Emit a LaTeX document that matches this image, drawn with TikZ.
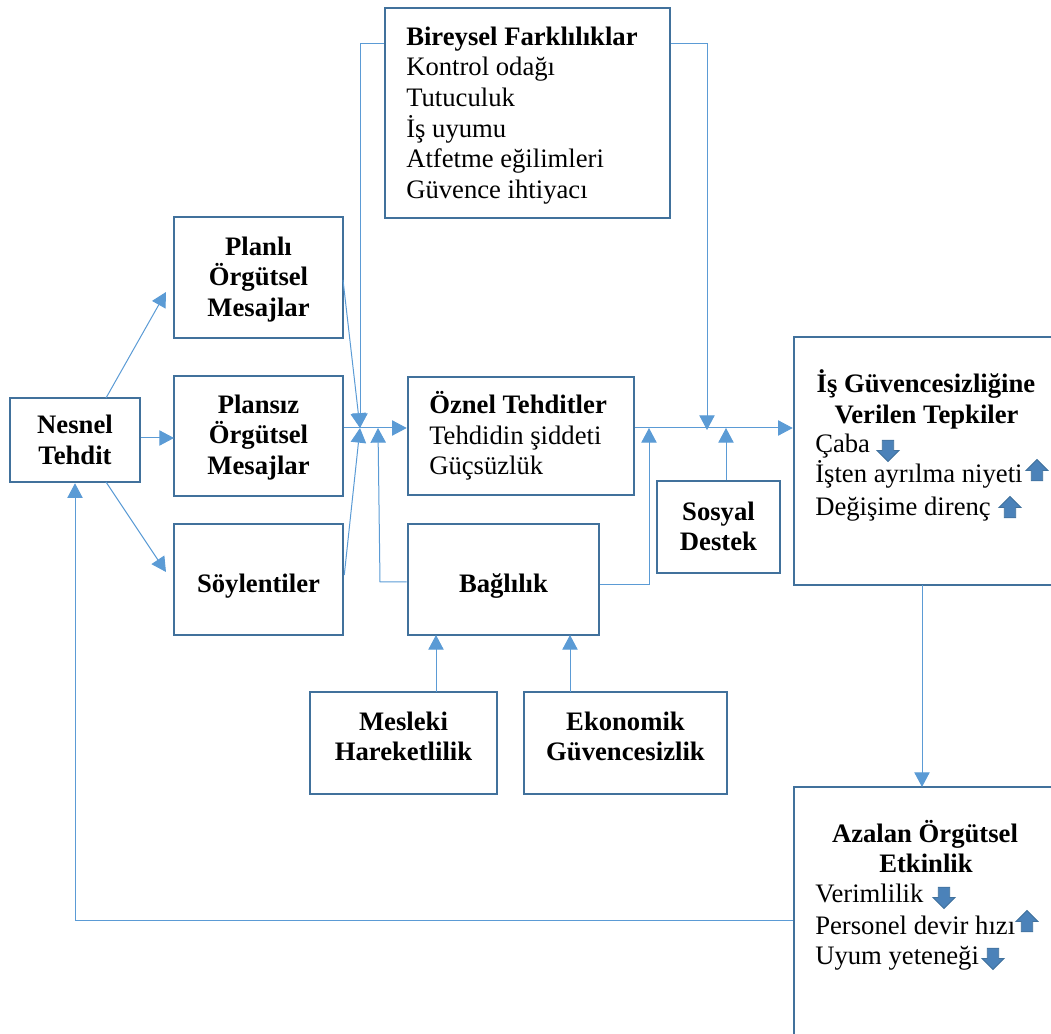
\documentclass[tikz,border=0pt]{standalone}
\usepackage{fontspec}
\setmainfont{Liberation Serif}
\usetikzlibrary{shapes,arrows.meta}
\definecolor{boxblue}{RGB}{65,113,156}
\definecolor{linkblue}{RGB}{91,155,213}
\definecolor{okblue}{RGB}{75,130,185}
\tikzset{
    boxnode/.style={rectangle, draw=boxblue, line width=1.9pt, inner sep=0pt},
    link/.style={color=linkblue, line width=.75pt},
    arrowlink/.style={link, -{Triangle[length=11pt,width=11.5pt]}},
    txt/.style={inner sep=0pt, anchor=base west, font=\fontsize{20}{22.9}\selectfont},
    head/.style={inner sep=0pt, anchor=base, font=\fontsize{20}{22.9}\bfseries\selectfont},
    boxtext/.style={inner sep=0pt, align=center, font=\fontsize{20}{22.9}\bfseries\selectfont},
    uparrow/.style={single arrow, shape border rotate=90, draw=boxblue, fill=okblue, line width=.6pt, minimum width=16pt, minimum height=16pt, single arrow head extend=4pt, inner sep=4pt},
    downarrow/.style={uparrow, shape border rotate=270},
}
\begin{document}
\begin{tikzpicture}[x=.75pt,y=-.75pt]
    \useasboundingbox (0,0) rectangle (1051,1034);

    % boxes
    \node [boxnode, minimum width=97.5pt, minimum height=63pt] (nesnel) at (75,440) {};
    \node [boxnode, minimum width=126.75pt, minimum height=90.75pt] (planli) at (258.5,277.5) {};
    \node [boxnode, minimum width=126.75pt, minimum height=90pt] (plansiz) at (258.5,436) {};
    \node [boxnode, minimum width=126.75pt, minimum height=83.25pt] (soylenti) at (258.5,579.5) {};
    \node [boxnode, minimum width=213.75pt, minimum height=157.5pt] (bireysel) at (527.5,113) {};
    \node [boxnode, minimum width=169.5pt, minimum height=88.5pt] (oznel) at (521,436) {};
    \node [boxnode, minimum width=143.25pt, minimum height=83.25pt] (baglilik) at (503.5,579.5) {};
    \node [boxnode, minimum width=92.25pt, minimum height=69pt] (sosyal) at (718.5,527) {};
    \node [boxnode, minimum width=140.25pt, minimum height=76.5pt] (mesleki) at (403.5,743) {};
    \node [boxnode, minimum width=152.25pt, minimum height=76.5pt] (ekonomik) at (625.5,743) {};
    \node [boxnode, minimum width=199.5pt, minimum height=186pt] (tepki) at (927,461) {};
    \node [boxnode, minimum width=199.5pt, minimum height=189.75pt] (etkinlik) at (927,913.5) {};

    % box texts
    \node [boxtext] (nesnelyazi) at (75,440) {Nesnel\\Tehdit};
    \node [boxtext] (planliyazi) at (258.5,279.5) {Planlı\\Örgütsel\\Mesajlar};
    \node [boxtext] (plansizyazi) at (258.5,437.5) {Plansız\\Örgütsel\\Mesajlar};
    \node [boxtext] (soylentiyazi) at (258.5,586.5) {Söylentiler};
    \node [boxtext] (baglilikyazi) at (503.5,586.5) {Bağlılık};
    \node [boxtext] (sosyalyazi) at (718.5,526.5) {Sosyal\\Destek};
    \node [boxtext] (meslekiyazi) at (403.5,736.5) {Mesleki\\Hareketlilik};
    \node [boxtext] (ekonomikyazi) at (625.5,736.5) {Ekonomik\\Güvencesizlik};

    \node [head, anchor=base west] (bireyselbas) at (406,46) {Bireysel Farklılıklar};
    \node [txt] (kontrol) at (406,76) {Kontrol odağı};
    \node [txt] (tutucu) at (406,107) {Tutuculuk};
    \node [txt] (uyum) at (406,138) {İş uyumu};
    \node [txt] (atfetme) at (406,168) {Atfetme eğilimleri};
    \node [txt] (guvence) at (406,199) {Güvence ihtiyacı};

    \node [head, anchor=base west] (oznelbas) at (429,414) {Öznel Tehditler};
    \node [txt] (siddet) at (429,445) {Tehdidin şiddeti};
    \node [txt] (gucsuz) at (429,475) {Güçsüzlük};

    \node [head] (tepkibas) at (926,393) {İş Güvencesizliğine};
    \node [head] (tepkibas2) at (926.5,424) {Verilen Tepkiler};
    \node [txt] (caba) at (815,453) {Çaba};
    \node [txt] (ayrilma) at (815,483) {İşten ayrılma niyeti};
    \node [txt] (direnc) at (815,516) {Değişime direnç};
    \node [downarrow] (cabaok) at (888,448) {};
    \node [uparrow] (ayrilmaok) at (1037,473) {};
    \node [uparrow] (direncok) at (1010,510) {};

    \node [head] (etkinlikbas) at (925,842) {Azalan Örgütsel};
    \node [head] (etkinlikbas2) at (926,872) {Etkinlik};
    \node [txt] (verim) at (815,902) {Verimlilik};
    \node [txt] (devir) at (815,934) {Personel devir hızı};
    \node [txt] (yetenek) at (815,964) {Uyum yeteneği};
    \node [downarrow] (verimok) at (944,895) {};
    \node [uparrow] (devirok) at (1027,924) {};
    \node [downarrow] (yetenekok) at (993,956) {};

    % free ends
    \coordinate (planliuc) at (166,292);
    \coordinate (soylentiuc) at (166,572);
    \coordinate (plansizuc) at (174,438);
    \coordinate (kavsak) at (360,428);
    \coordinate (kavsakiki) at (378,428);
    \coordinate (sag) at (649,428);
    \coordinate (destekuc) at (726,428);
    \coordinate (farkuc) at (707,430);

    % from the first box
    \draw [arrowlink] (106,398) -- (planliuc);
    \draw [arrowlink] (nesnel.east |- plansizuc) -- (plansizuc);
    \draw [arrowlink] (106,482) -- (soylentiuc);

    % into the crossing
    \draw [arrowlink] (343,280) -- (kavsak);
    \draw [arrowlink] (soylenti.east |- 0,575) -- (kavsak);
    \draw [arrowlink] (bireysel.west |- 0,44) -- (360,44) -- (kavsak);
    \draw [arrowlink] (plansiz.east |- kavsak) -- (oznel.west |- kavsak);
    \draw [arrowlink] (baglilik.west |- 0,582) -- (380,582) -- (kavsakiki);

    % towards the reactions
    \draw [arrowlink] (oznel.east |- kavsak) -- (tepki.west |- kavsak);
    \draw [arrowlink] (bireysel.east |- 0,44) -- (707,44) -- (farkuc);
    \draw [arrowlink] (baglilik.east |- 0,585) -- (649,585) -- (sag);
    \draw [arrowlink] (sosyal.north -| destekuc) -- (destekuc);
    \draw [arrowlink] (436,692) -- (436,635);
    \draw [arrowlink] (570,692) -- (570,635);
    \draw [arrowlink] (922,585) -- (922,787);

    % back to the first box
    \draw [arrowlink] (etkinlik.west |- 0,920) -- (75,920) -- (nesnel.south);
\end{tikzpicture}
\end{document}
